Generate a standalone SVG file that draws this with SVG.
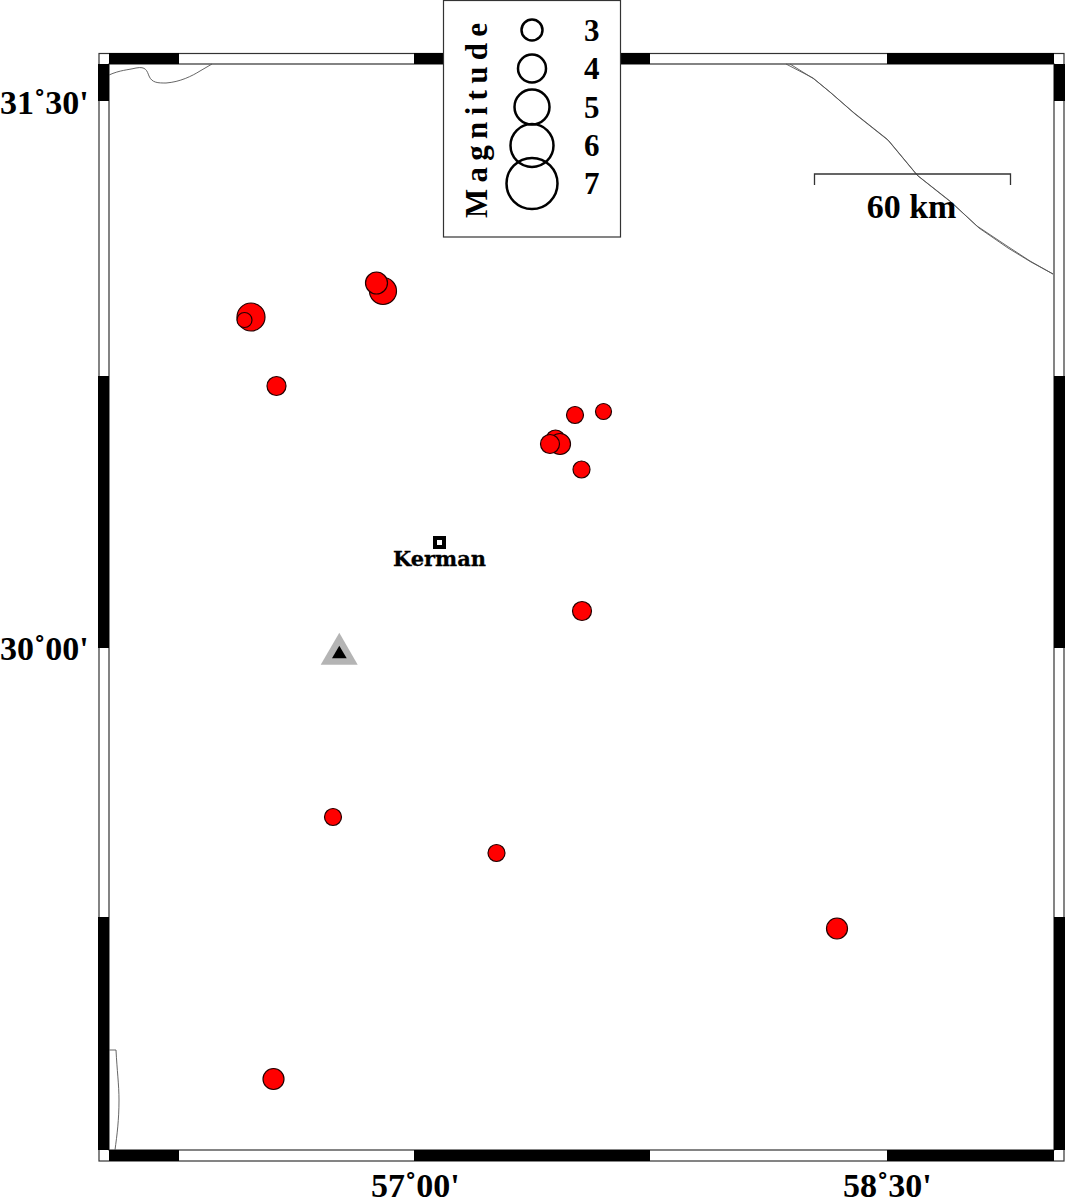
<svg xmlns="http://www.w3.org/2000/svg" width="1066" height="1199" viewBox="0 0 1066 1199">
<style>
.t{font-family:"Liberation Serif","Times New Roman",serif;font-weight:bold;fill:#000}
.big{font-size:34px}
.ev{fill:#f00;stroke:#200;stroke-width:1.2}
.lg{fill:none;stroke:#000;stroke-width:2.5}
.b{fill:#000}
.c{fill:none;stroke:#555;stroke-width:.9}
.f{fill:none;stroke:#333;stroke-width:1.2}
</style>
<rect width="1066" height="1199" fill="#fff"/>
<g id="frame">
<rect class="f" x="99" y="53.500" width="965" height="1107.500"/>
<rect class="f" x="109" y="64" width="945" height="1086"/>
<path class="b" d="M109 53h70v11h-70zM414 53h236v11H414zM887 53h167v11H887zM109 1150h70v11h-70zM414 1150h236v11H414zM887 1150h167v11H887zM98 64h11v37H98zM98 376h11v272H98zM98 917h11v233H98zM1054 64h11v37h-11zM1054 376h11v272h-11zM1054 917h11v233h-11z"/>
</g>
<g id="coastlines">
<path class="c" stroke-width="1.200" d="M109 75C120 70 128 70 136 68C146 66 147 71 149 76C152 83 158 83 166 83C180 82 192 76 200 71L212 64"/>
<path class="c" d="M786 64L813 78L830 92L853 112L887 139L917 175L950 201L977 226L1007 246L1030 261L1053 274"/>
<path class="c" d="M790 64L814 79L831 93L855 114L889 141L918 176L952 203L979 228L1008 248L1031 262L1053 274"/>
<path class="c" d="M109 1050H116C117 1070 119 1085 119 1100C119 1120 117 1135 115 1150"/>
</g>
<g id="events">
<circle class="ev" cx="251" cy="317" r="14"/>
<circle class="ev" cx="244.500" cy="320" r="7.500"/>
<circle class="ev" cx="383" cy="291" r="13.500"/>
<circle class="ev" cx="376.500" cy="283" r="11"/>
<circle class="ev" cx="276.500" cy="386" r="9.500"/>
<circle class="ev" cx="575" cy="415" r="8.500"/>
<circle class="ev" cx="603.500" cy="411.500" r="8"/>
<circle class="ev" cx="555.500" cy="439.500" r="9.500"/>
<circle class="ev" cx="560" cy="444" r="10.500"/>
<circle class="ev" cx="550" cy="444" r="9.500"/>
<circle class="ev" cx="581.500" cy="469.500" r="8.500"/>
<circle class="ev" cx="582" cy="611" r="9.500"/>
<circle class="ev" cx="333" cy="817" r="8.500"/>
<circle class="ev" cx="496.500" cy="853" r="8.500"/>
<circle class="ev" cx="837" cy="928.500" r="10.500"/>
<circle class="ev" cx="273.500" cy="1079" r="10.500"/>
</g>
<g id="volcano">
<polygon points="339.300,632.700 357.700,664.700 320.700,664.700" fill="#b4b4b4"/>
<polygon points="339.300,645.700 346.700,658.300 332,658.300" fill="#000"/>
</g>
<g id="kerman">
<rect x="435" y="538" width="9" height="9" fill="#fff" stroke="#000" stroke-width="4"/>
<text x="393" y="566" font-family="'DejaVu Serif',serif" font-weight="bold" font-size="20" textLength="93" lengthAdjust="spacingAndGlyphs" stroke="#000" stroke-width=".3">Kerman</text>
</g>
<g id="scale">
<path d="M814.500 185V174H1010.500V185" fill="none" stroke="#333" stroke-width="1.300"/>
<text class="t big" x="911.500" y="218" text-anchor="middle">60 km</text>
</g>
<g id="legend">
<rect x="443.500" y="0.500" width="177" height="236.500" fill="#fff" stroke="#333" stroke-width="1.200"/>
<circle class="lg" cx="532" cy="30" r="10.500"/>
<circle class="lg" cx="532" cy="68.500" r="14"/>
<circle class="lg" cx="532" cy="107" r="17.500"/>
<circle class="lg" cx="532" cy="145.500" r="21.500"/>
<circle class="lg" cx="532" cy="183.500" r="25.500"/>
<text class="t" font-size="31" x="584" y="41">3</text>
<text class="t" font-size="31" x="584" y="79">4</text>
<text class="t" font-size="31" x="584" y="118">5</text>
<text class="t" font-size="31" x="584" y="156">6</text>
<text class="t" font-size="31" x="584" y="194">7</text>
<text class="t" font-size="31" transform="translate(487 218) rotate(-90)" textLength="195">Magnitude</text>
</g>
<g id="labels">
<text class="t big" x="0" y="114">31˚30'</text>
<text class="t big" x="0" y="660">30˚00'</text>
<text class="t big" x="371" y="1197">57˚00'</text>
<text class="t big" x="843" y="1197">58˚30'</text>
</g>
</svg>
